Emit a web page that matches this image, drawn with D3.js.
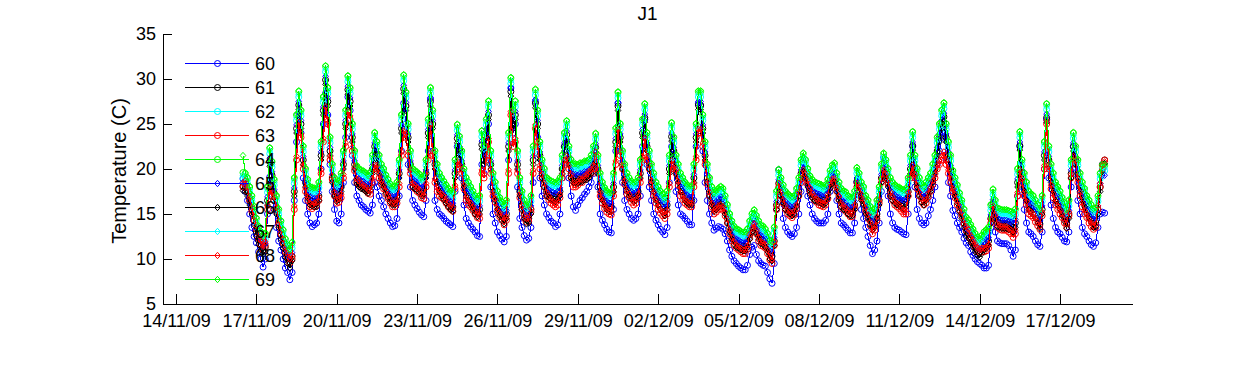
<!DOCTYPE html>
<html>
<head>
<meta charset="utf-8">
<script src="https://cdn.jsdelivr.net/npm/d3@7/dist/d3.min.js"></script>
<style>
  body { margin: 0; background: #fff; }
  svg { display: block; }
  text { font-family: "Liberation Sans", Arial, Helvetica, sans-serif; fill: #000; }
</style>
</head>
<body>
<svg id="chart" width="1250" height="365"></svg>
<script>
// ---------------- DATA ----------------
const chartTitle = "J1";
const yAxisLabel = "Temperature (C)";
const seriesNames = ["60", "61", "62", "63", "64", "65", "66", "67", "68", "69"];
// readings every 2 hours, first reading 16/11/09 12:00 (one line per day)
const firstReading = "2009-11-16T12:00:00";
const readingStepHours = 2;

const s60 = [18.9,17.5,16.5,15.0,13.5,12.5,
 11.8,10.8,10.0,9.1,10.0,15.0,19.1,17.5,15.5,13.5,12.0,11.0,
 10.0,9.0,8.5,7.7,8.5,16.5,23.0,26.2,24.0,19.0,16.5,15.0,
 14.0,13.6,13.8,14.0,15.0,20.0,25.0,28.4,26.0,20.5,17.5,15.5,
 14.2,14.0,15.0,18.5,23.5,28.0,26.5,21.5,18.5,17.0,16.5,16.0,
 15.8,15.5,15.3,15.1,16.0,18.5,18.0,17.0,16.5,15.8,15.0,14.5,
 14.0,13.6,13.7,14.5,17.0,22.0,27.3,25.0,20.5,18.0,16.5,16.0,
 15.6,15.2,14.9,14.7,16.5,22.0,27.8,22.0,16.5,15.5,15.0,14.8,
 14.5,14.2,14.0,13.8,13.6,17.5,22.5,21.0,19.0,16.0,14.5,14.0,
 13.6,13.3,13.0,12.6,12.5,20.5,19.5,22.5,25.0,18.0,15.0,14.0,
 13.0,12.6,12.2,11.9,12.5,21.0,29.0,24.0,25.0,18.0,14.5,13.5,
 12.6,12.1,12.3,13.5,18.5,27.5,23.5,19.0,17.0,16.0,15.0,14.6,
 14.2,14.0,13.6,13.8,15.0,19.0,22.5,23.0,19.0,17.0,15.8,15.4,
 16.0,16.5,16.8,17.2,17.5,18.0,18.5,19.5,21.0,18.0,15.0,14.3,
 13.8,13.3,13.0,12.9,15.5,22.0,27.3,22.0,18.5,16.5,15.5,15.0,
 14.5,14.3,14.5,15.0,17.0,22.5,25.5,20.5,18.0,16.5,15.0,14.3,
 13.8,13.3,13.0,12.7,13.5,18.5,22.5,20.0,17.5,16.0,15.0,14.8,
 14.5,14.2,13.8,13.8,16.5,22.5,27.3,27.0,22.0,18.5,16.5,15.0,
 14.0,13.2,13.4,13.6,13.5,13.3,12.8,12.0,11.0,10.3,9.8,9.5,
 9.2,9.0,8.8,8.8,9.3,10.5,11.3,11.5,10.5,9.8,9.5,9.3,
 9.2,8.5,7.8,7.3,9.5,15.5,19.9,17.0,14.5,13.5,13.0,12.7,
 12.5,12.8,13.5,15.0,17.5,19.9,18.5,17.0,16.0,15.0,14.5,14.2,
 14.0,14.0,14.0,14.3,15.0,17.5,19.0,19.2,16.5,15.0,14.0,13.8,
 13.5,13.2,12.9,12.9,14.0,18.5,17.5,15.5,14.5,13.5,12.5,11.5,
 10.6,11.0,12.0,14.0,17.5,21.3,20.0,17.0,15.0,14.0,13.5,13.3,
 13.2,13.0,12.8,12.7,15.0,19.0,22.5,18.0,15.5,14.5,14.0,13.8,
 14.0,14.8,15.5,16.5,18.0,20.5,22.0,23.5,24.8,21.0,18.5,17.0,
 15.4,14.8,14.0,13.5,13.0,12.3,11.8,11.5,10.8,10.4,10.0,9.7,
 9.5,9.3,9.0,9.0,9.3,13.5,16.0,13.0,12.0,11.8,11.7,11.7,
 11.7,11.5,11.0,10.3,11.0,17.0,22.5,17.5,15.5,14.0,13.0,12.8,
 12.5,12.0,11.6,11.4,13.0,20.0,25.5,19.0,16.0,14.5,13.5,13.0,
 12.8,12.4,12.0,11.9,13.0,18.0,22.5,19.5,16.5,15.0,13.5,12.8,
 12.5,12.0,11.6,11.4,11.8,13.5,15.0,15.2,15.1];

const s61 = [18.1,18.0,17.5,16.5,15.5,14.3,
 13.0,12.1,11.5,11.0,11.3,16.5,20.8,19.3,17.3,15.5,14.0,12.7,
 11.7,10.7,10.0,9.5,10.3,17.5,24.5,27.1,25.0,21.0,18.5,17.3,
 16.5,16.4,16.3,16.3,17.0,21.5,26.5,29.9,27.5,22.0,19.0,17.5,
 16.9,17.1,18.0,20.5,25.0,28.8,27.5,23.5,20.5,18.8,18.5,18.3,
 18.2,18.0,17.8,18.1,20.0,22.5,21.5,20.0,19.0,18.5,17.8,17.3,
 16.8,16.5,16.5,17.0,19.5,24.5,28.9,27.0,23.5,20.5,18.5,18.3,
 18.1,17.9,17.5,17.7,19.5,24.0,27.5,25.0,20.5,19.0,18.0,17.5,
 17.1,16.7,16.3,16.0,15.8,19.5,23.4,22.1,20.5,18.5,17.5,17.0,
 16.5,16.0,15.5,15.2,15.5,22.7,21.0,24.0,26.0,20.5,18.0,17.0,
 16.0,15.3,14.8,14.4,15.0,22.5,28.6,25.0,26.0,20.5,17.5,16.0,
 15.0,14.4,14.5,15.5,21.0,27.3,25.0,21.5,19.5,18.5,17.5,17.3,
 17.1,17.0,16.9,17.1,17.5,20.0,22.5,23.8,21.0,19.5,19.0,19.0,
 18.9,19.1,19.1,19.3,19.3,19.5,20.0,21.0,22.4,20.0,18.0,17.0,
 16.4,16.0,15.8,15.8,18.0,23.0,27.0,23.5,20.5,19.0,18.0,17.5,
 17.1,16.9,17.0,17.5,19.5,24.0,25.7,22.5,20.5,19.0,18.0,17.0,
 16.5,16.0,15.7,15.3,16.0,20.0,23.6,22.0,20.0,19.0,18.0,17.5,
 17.0,16.7,16.5,16.5,19.0,23.5,27.1,27.1,24.5,21.5,19.0,17.5,
 16.5,15.8,16.0,16.3,16.5,16.3,15.5,14.5,13.5,12.7,12.1,11.8,
 11.7,11.5,11.4,11.4,11.8,12.7,13.5,13.9,13.3,12.7,12.2,12.1,
 11.8,11.3,10.5,10.3,12.0,16.0,18.4,17.5,16.7,16.0,15.7,15.5,
 15.3,15.5,16.3,17.5,19.5,20.2,19.5,18.5,17.7,17.3,17.0,16.9,
 16.8,16.7,16.5,16.7,17.3,18.3,18.9,19.1,18.0,17.0,16.3,16.0,
 15.9,15.5,15.3,15.3,16.0,18.6,18.0,17.0,16.5,15.5,15.0,14.3,
 13.7,14.0,15.0,16.5,19.0,20.2,19.5,18.5,17.5,17.0,16.7,16.5,
 16.4,16.2,16.1,16.3,17.5,20.0,22.6,20.0,18.5,17.5,16.8,16.5,
 17.0,17.5,18.0,19.0,20.0,22.0,23.5,25.0,25.8,23.5,21.5,20.0,
 18.3,17.5,16.7,15.8,15.0,14.0,13.1,12.8,12.3,11.8,11.3,10.9,
 10.7,11.1,11.5,11.7,12.0,14.5,16.2,15.0,14.1,14.0,13.9,13.9,
 13.9,13.8,13.7,13.5,14.0,18.5,22.6,19.5,18.0,17.0,16.0,15.7,
 15.5,15.0,14.5,13.9,15.5,21.5,25.7,21.0,19.0,18.0,17.0,16.5,
 16.0,15.3,14.7,13.9,15.0,19.5,22.5,21.0,19.5,18.0,17.0,16.3,
 15.5,15.0,14.5,14.0,14.1,15.5,18.0,20.5,21.0];

const s62 = [19.0,18.9,18.4,17.4,16.4,15.2,
 13.9,13.0,12.4,11.9,12.2,17.4,21.7,20.2,18.2,16.4,14.9,13.6,
 12.6,11.6,10.9,10.4,11.2,18.4,25.4,28.0,25.9,21.9,19.4,18.2,
 17.4,17.3,17.2,17.2,17.9,22.4,27.4,30.8,28.4,22.9,19.9,18.4,
 17.8,18.0,18.9,21.4,25.9,29.7,28.4,24.4,21.4,19.7,19.4,19.2,
 19.1,18.9,18.7,19.0,20.9,23.4,22.4,20.9,19.9,19.4,18.7,18.2,
 17.7,17.4,17.4,17.9,20.4,25.4,29.8,27.9,24.4,21.4,19.4,19.2,
 19.0,18.8,18.4,18.6,20.4,24.9,28.4,25.9,21.4,19.9,18.9,18.4,
 18.0,17.6,17.2,16.9,16.7,20.4,24.3,23.0,21.4,19.4,18.4,17.9,
 17.4,16.9,16.4,16.1,16.4,23.6,21.9,24.9,26.9,21.4,18.9,17.9,
 16.9,16.2,15.7,15.3,15.9,23.4,29.5,25.9,26.9,21.4,18.4,16.9,
 15.9,15.3,15.4,16.4,21.9,28.2,25.9,22.4,20.4,19.4,18.4,18.2,
 18.0,17.9,17.8,18.0,18.4,20.9,23.4,24.7,21.9,20.4,19.9,19.9,
 19.8,20.0,20.0,20.2,20.2,20.4,20.9,21.9,23.3,20.9,18.9,17.9,
 17.3,16.9,16.7,16.7,18.9,23.9,27.9,24.4,21.4,19.9,18.9,18.4,
 18.0,17.8,17.9,18.4,20.4,24.9,26.6,23.4,21.4,19.9,18.9,17.9,
 17.4,16.9,16.6,16.2,16.9,20.9,24.5,22.9,20.9,19.9,18.9,18.4,
 17.9,17.6,17.4,17.4,19.9,24.4,28.0,28.0,25.4,22.4,19.9,18.4,
 17.4,16.7,16.9,17.2,17.4,17.2,16.4,15.4,14.4,13.6,13.0,12.7,
 12.6,12.4,12.3,12.3,12.7,13.6,14.4,14.8,14.2,13.6,13.1,13.0,
 12.7,12.2,11.4,11.2,12.9,16.9,19.3,18.4,17.6,16.9,16.6,16.4,
 16.2,16.4,17.2,18.4,20.4,21.1,20.4,19.4,18.6,18.2,17.9,17.8,
 17.7,17.6,17.4,17.6,18.2,19.2,19.8,20.0,18.9,17.9,17.2,16.9,
 16.8,16.4,16.2,16.2,16.9,19.5,18.9,17.9,17.4,16.4,15.9,15.2,
 14.6,14.9,15.9,17.4,19.9,21.1,20.4,19.4,18.4,17.9,17.6,17.4,
 17.3,17.1,17.0,17.2,18.4,20.9,23.5,20.9,19.4,18.4,17.7,17.4,
 17.9,18.4,18.9,19.9,20.9,22.9,24.4,25.9,26.7,24.4,22.4,20.9,
 19.2,18.4,17.6,16.7,15.9,14.9,14.0,13.7,13.2,12.7,12.2,11.8,
 11.6,12.0,12.4,12.6,12.9,15.4,17.1,15.9,15.0,14.9,14.8,14.8,
 14.8,14.7,14.6,14.4,14.9,19.4,23.5,20.4,18.9,17.9,16.9,16.6,
 16.4,15.9,15.4,14.8,16.4,22.4,26.6,21.9,19.9,18.9,17.9,17.4,
 16.9,16.2,15.6,14.8,15.9,20.4,23.4,21.9,20.4,18.9,17.9,17.2,
 16.4,15.9,15.4,14.9,15.0,16.4,18.9,19.8,19.8];

const s63 = [18.0,18.3,17.5,16.5,15.3,14.3,
 13.3,12.3,11.6,11.0,11.5,15.5,17.8,17.0,16.5,15.3,13.8,12.8,
 11.8,10.8,10.2,9.6,10.0,15.5,21.0,24.8,23.5,20.0,17.5,16.5,
 15.8,15.6,15.8,15.9,16.5,19.5,23.0,26.5,25.0,21.0,18.8,17.0,
 16.2,16.3,16.8,19.0,22.5,26.0,25.5,22.0,19.8,18.5,18.3,18.0,
 17.8,17.6,17.3,17.2,18.5,20.0,20.0,19.0,18.3,17.8,17.2,16.7,
 16.2,15.8,15.8,16.2,18.0,21.5,23.8,23.5,21.5,19.5,18.0,17.8,
 17.5,17.3,16.8,16.7,18.0,21.0,24.5,21.5,18.5,17.5,17.0,16.8,
 16.6,16.2,15.8,15.5,15.3,17.8,20.5,20.0,19.5,17.8,16.5,16.0,
 15.8,15.4,15.0,14.6,14.5,19.5,19.0,21.0,23.0,19.5,17.0,16.3,
 15.2,14.7,14.3,13.8,14.3,19.5,26.0,22.5,23.0,19.5,16.8,15.5,
 14.5,14.1,14.2,15.2,19.5,24.5,22.5,20.0,19.0,18.0,17.0,16.6,
 16.2,16.0,15.8,16.0,16.8,19.0,20.5,21.0,20.0,19.0,18.0,18.0,
 18.2,18.5,18.5,18.8,19.0,19.3,19.5,20.0,21.5,19.5,17.0,16.2,
 15.6,15.2,15.0,14.9,17.0,20.5,24.0,21.5,20.0,18.3,17.2,16.8,
 16.3,16.0,16.2,16.8,18.5,21.0,23.0,21.0,20.0,18.3,17.0,16.2,
 15.5,15.1,14.8,14.5,15.0,18.0,20.5,20.0,19.5,18.2,17.0,16.6,
 16.2,16.0,15.8,15.8,18.0,21.0,24.0,24.0,22.5,20.5,18.3,17.0,
 15.8,15.0,15.2,15.5,15.6,15.4,14.8,14.0,12.8,12.0,11.5,11.2,
 11.0,10.8,10.6,10.6,11.1,12.3,13.0,13.5,12.8,12.0,11.5,11.4,
 11.2,10.6,9.9,9.5,11.5,15.5,18.0,17.0,16.2,15.5,15.0,14.8,
 14.6,14.9,15.6,17.0,18.5,19.5,19.0,18.3,17.5,16.9,16.5,16.3,
 16.0,15.9,15.8,16.0,16.7,18.0,18.5,18.5,17.5,16.6,15.8,15.5,
 15.3,15.0,14.7,14.7,15.6,18.0,17.5,16.8,16.2,15.3,14.5,13.7,
 12.8,13.2,14.3,16.2,18.5,19.5,19.0,18.3,17.0,16.5,16.0,15.8,
 15.6,15.3,15.0,15.0,17.0,19.0,20.0,19.0,17.8,17.0,16.3,16.0,
 16.2,16.9,17.5,18.3,19.0,20.0,20.5,21.0,21.5,20.5,19.5,18.5,
 17.4,16.8,16.0,15.4,14.8,13.9,13.2,12.9,12.2,11.7,11.3,10.9,
 10.7,10.8,10.8,10.9,11.2,14.0,15.5,14.5,13.5,13.3,13.2,13.2,
 13.2,13.0,12.8,12.4,12.8,17.0,19.5,18.5,17.0,16.0,15.0,14.8,
 14.6,14.1,13.7,13.3,14.8,20.0,25.0,20.0,17.8,16.8,16.0,15.5,
 15.0,14.6,14.0,13.5,14.8,19.0,21.0,20.5,18.5,17.0,15.8,15.0,
 14.6,14.0,13.6,13.3,13.5,15.5,18.0,20.0,21.0];

const s64 = [19.6,19.5,19.0,18.0,17.0,15.8,
 14.5,13.6,13.0,12.5,12.8,18.0,22.3,20.8,18.8,17.0,15.5,14.2,
 13.2,12.2,11.5,11.0,11.8,19.0,26.0,28.6,26.5,22.5,20.0,18.8,
 18.0,17.9,17.8,17.8,18.5,23.0,28.0,31.4,29.0,23.5,20.5,19.0,
 18.4,18.6,19.5,22.0,26.5,30.3,29.0,25.0,22.0,20.3,20.0,19.8,
 19.7,19.5,19.3,19.6,21.5,24.0,23.0,21.5,20.5,20.0,19.3,18.8,
 18.3,18.0,18.0,18.5,21.0,26.0,30.4,28.5,25.0,22.0,20.0,19.8,
 19.6,19.4,19.0,19.2,21.0,25.5,29.0,26.5,22.0,20.5,19.5,19.0,
 18.6,18.2,17.8,17.5,17.3,21.0,24.9,23.6,22.0,20.0,19.0,18.5,
 18.0,17.5,17.0,16.7,17.0,24.2,22.5,25.5,27.5,22.0,19.5,18.5,
 17.5,16.8,16.3,15.9,16.5,24.0,30.1,26.5,27.5,22.0,19.0,17.5,
 16.5,15.9,16.0,17.0,22.5,28.8,26.5,23.0,21.0,20.0,19.0,18.8,
 18.6,18.5,18.4,18.6,19.0,21.5,24.0,25.3,22.5,21.0,20.5,20.5,
 20.4,20.6,20.6,20.8,20.8,21.0,21.5,22.5,23.9,21.5,19.5,18.5,
 17.9,17.5,17.3,17.3,19.5,24.5,28.5,25.0,22.0,20.5,19.5,19.0,
 18.6,18.4,18.5,19.0,21.0,25.5,27.2,24.0,22.0,20.5,19.5,18.5,
 18.0,17.5,17.2,16.8,17.5,21.5,25.1,23.5,21.5,20.5,19.5,19.0,
 18.5,18.2,18.0,18.0,20.5,25.0,28.6,28.6,26.0,23.0,20.5,19.0,
 18.0,17.3,17.5,17.8,18.0,17.8,17.0,16.0,15.0,14.2,13.6,13.3,
 13.2,13.0,12.9,12.9,13.3,14.2,15.0,15.4,14.8,14.2,13.7,13.6,
 13.3,12.8,12.0,11.8,13.5,17.5,19.9,19.0,18.2,17.5,17.2,17.0,
 16.8,17.0,17.8,19.0,21.0,21.7,21.0,20.0,19.2,18.8,18.5,18.4,
 18.3,18.2,18.0,18.2,18.8,19.8,20.4,20.6,19.5,18.5,17.8,17.5,
 17.4,17.0,16.8,16.8,17.5,20.1,19.5,18.5,18.0,17.0,16.5,15.8,
 15.2,15.5,16.5,18.0,20.5,21.7,21.0,20.0,19.0,18.5,18.2,18.0,
 17.9,17.7,17.6,17.8,19.0,21.5,24.1,21.5,20.0,19.0,18.3,18.0,
 18.5,19.0,19.5,20.5,21.5,23.5,25.0,26.5,27.3,25.0,23.0,21.5,
 19.8,19.0,18.2,17.3,16.5,15.5,14.6,14.3,13.8,13.3,12.8,12.4,
 12.2,12.6,13.0,13.2,13.5,16.0,17.7,16.5,15.6,15.5,15.4,15.4,
 15.4,15.3,15.2,15.0,15.5,20.0,24.1,21.0,19.5,18.5,17.5,17.2,
 17.0,16.5,16.0,15.4,17.0,23.0,27.2,22.5,20.5,19.5,18.5,18.0,
 17.5,16.8,16.2,15.4,16.5,21.0,24.0,22.5,21.0,19.5,18.5,17.8,
 17.0,16.5,16.0,15.5,15.6,17.0,19.5,20.4,20.4];

const s65 = [18.5,18.4,17.9,16.9,15.9,14.7,
 13.4,12.5,11.9,11.4,11.7,16.9,21.2,19.7,17.7,15.9,14.4,13.1,
 12.1,11.1,10.4,9.9,10.7,17.9,24.9,27.5,25.4,21.4,18.9,17.7,
 16.9,16.8,16.7,16.7,17.4,21.9,26.9,30.3,27.9,22.4,19.4,17.9,
 17.3,17.5,18.4,20.9,25.4,29.2,27.9,23.9,20.9,19.2,18.9,18.7,
 18.6,18.4,18.2,18.5,20.4,22.9,21.9,20.4,19.4,18.9,18.2,17.7,
 17.2,16.9,16.9,17.4,19.9,24.9,29.3,27.4,23.9,20.9,18.9,18.7,
 18.5,18.3,17.9,18.1,19.9,24.4,27.9,25.4,20.9,19.4,18.4,17.9,
 17.5,17.1,16.7,16.4,16.2,19.9,23.8,22.5,20.9,18.9,17.9,17.4,
 16.9,16.4,15.9,15.6,15.9,23.1,21.4,24.4,26.4,20.9,18.4,17.4,
 16.4,15.7,15.2,14.8,15.4,22.9,29.0,25.4,26.4,20.9,17.9,16.4,
 15.4,14.8,14.9,15.9,21.4,27.7,25.4,21.9,19.9,18.9,17.9,17.7,
 17.5,17.4,17.3,17.5,17.9,20.4,22.9,24.2,21.4,19.9,19.4,19.4,
 19.3,19.5,19.5,19.7,19.7,19.9,20.4,21.4,22.8,20.4,18.4,17.4,
 16.8,16.4,16.2,16.2,18.4,23.4,27.4,23.9,20.9,19.4,18.4,17.9,
 17.5,17.3,17.4,17.9,19.9,24.4,26.1,22.9,20.9,19.4,18.4,17.4,
 16.9,16.4,16.1,15.7,16.4,20.4,24.0,22.4,20.4,19.4,18.4,17.9,
 17.4,17.1,16.9,16.9,19.4,23.9,27.5,27.5,24.9,21.9,19.4,17.9,
 16.9,16.2,16.4,16.7,16.9,16.7,15.9,14.9,13.9,13.1,12.5,12.2,
 12.1,11.9,11.8,11.8,12.2,13.1,13.9,14.3,13.7,13.1,12.6,12.5,
 12.2,11.7,10.9,10.7,12.4,16.4,18.8,17.9,17.1,16.4,16.1,15.9,
 15.7,15.9,16.7,17.9,19.9,20.6,19.9,18.9,18.1,17.7,17.4,17.3,
 17.2,17.1,16.9,17.1,17.7,18.7,19.3,19.5,18.4,17.4,16.7,16.4,
 16.3,15.9,15.7,15.7,16.4,19.0,18.4,17.4,16.9,15.9,15.4,14.7,
 14.1,14.4,15.4,16.9,19.4,20.6,19.9,18.9,17.9,17.4,17.1,16.9,
 16.8,16.6,16.5,16.7,17.9,20.4,23.0,20.4,18.9,17.9,17.2,16.9,
 17.4,17.9,18.4,19.4,20.4,22.4,23.9,25.4,26.2,23.9,21.9,20.4,
 18.7,17.9,17.1,16.2,15.4,14.4,13.5,13.2,12.7,12.2,11.7,11.3,
 11.1,11.5,11.9,12.1,12.4,14.9,16.6,15.4,14.5,14.4,14.3,14.3,
 14.3,14.2,14.1,13.9,14.4,18.9,23.0,19.9,18.4,17.4,16.4,16.1,
 15.9,15.4,14.9,14.3,15.9,21.9,26.1,21.4,19.4,18.4,17.4,16.9,
 16.4,15.7,15.1,14.3,15.4,19.9,22.9,21.4,19.9,18.4,17.4,16.7,
 15.9,15.4,14.9,14.4,14.5,15.9,18.4,19.3,19.3];

const s66 = [17.6,17.5,17.0,16.0,15.0,13.8,
 12.5,11.6,11.0,10.5,10.8,16.0,20.3,18.8,16.8,15.0,13.5,12.2,
 11.2,10.2,9.5,9.0,9.8,17.0,24.0,26.6,24.5,20.5,18.0,16.8,
 16.0,15.9,15.8,15.8,16.5,21.0,26.0,29.4,27.0,21.5,18.5,17.0,
 16.4,16.6,17.5,20.0,24.5,28.3,27.0,23.0,20.0,18.3,18.0,17.8,
 17.7,17.5,17.3,17.6,19.5,22.0,21.0,19.5,18.5,18.0,17.3,16.8,
 16.3,16.0,16.0,16.5,19.0,24.0,28.4,26.5,23.0,20.0,18.0,17.8,
 17.6,17.4,17.0,17.2,19.0,23.5,27.0,24.5,20.0,18.5,17.5,17.0,
 16.6,16.2,15.8,15.5,15.3,19.0,22.9,21.6,20.0,18.0,17.0,16.5,
 16.0,15.5,15.0,14.7,15.0,22.2,20.5,23.5,25.5,20.0,17.5,16.5,
 15.5,14.8,14.3,13.9,14.5,22.0,28.1,24.5,25.5,20.0,17.0,15.5,
 14.5,13.9,14.0,15.0,20.5,26.8,24.5,21.0,19.0,18.0,17.0,16.8,
 16.6,16.5,16.4,16.6,17.0,19.5,22.0,23.3,20.5,19.0,18.5,18.5,
 18.4,18.6,18.6,18.8,18.8,19.0,19.5,20.5,21.9,19.5,17.5,16.5,
 15.9,15.5,15.3,15.3,17.5,22.5,26.5,23.0,20.0,18.5,17.5,17.0,
 16.6,16.4,16.5,17.0,19.0,23.5,25.2,22.0,20.0,18.5,17.5,16.5,
 16.0,15.5,15.2,14.8,15.5,19.5,23.1,21.5,19.5,18.5,17.5,17.0,
 16.5,16.2,16.0,16.0,18.5,23.0,26.6,26.6,24.0,21.0,18.5,17.0,
 16.0,15.3,15.5,15.8,16.0,15.8,15.0,14.0,13.0,12.2,11.6,11.3,
 11.2,11.0,10.9,10.9,11.3,12.2,13.0,13.4,12.8,12.2,11.7,11.6,
 11.3,10.8,10.0,9.8,11.5,15.5,17.9,17.0,16.2,15.5,15.2,15.0,
 14.8,15.0,15.8,17.0,19.0,19.7,19.0,18.0,17.2,16.8,16.5,16.4,
 16.3,16.2,16.0,16.2,16.8,17.8,18.4,18.6,17.5,16.5,15.8,15.5,
 15.4,15.0,14.8,14.8,15.5,18.1,17.5,16.5,16.0,15.0,14.5,13.8,
 13.2,13.5,14.5,16.0,18.5,19.7,19.0,18.0,17.0,16.5,16.2,16.0,
 15.9,15.7,15.6,15.8,17.0,19.5,22.1,19.5,18.0,17.0,16.3,16.0,
 16.5,17.0,17.5,18.5,19.5,21.5,23.0,24.5,25.3,23.0,21.0,19.5,
 17.8,17.0,16.2,15.3,14.5,13.5,12.6,12.3,11.8,11.3,10.8,10.4,
 10.2,10.6,11.0,11.2,11.5,14.0,15.7,14.5,13.6,13.5,13.4,13.4,
 13.4,13.3,13.2,13.0,13.5,18.0,22.1,19.0,17.5,16.5,15.5,15.2,
 15.0,14.5,14.0,13.4,15.0,21.0,25.2,20.5,18.5,17.5,16.5,16.0,
 15.5,14.8,14.2,13.4,14.5,19.0,22.0,20.5,19.0,17.5,16.5,15.8,
 15.0,14.5,14.0,13.5,13.6,15.0,17.5,19.8,20.6];

const s67 = [19.3,19.2,18.7,17.7,16.7,15.5,
 14.2,13.3,12.7,12.2,12.5,17.7,22.0,20.5,18.5,16.7,15.2,13.9,
 12.9,11.9,11.2,10.7,11.5,18.7,25.7,28.3,26.2,22.2,19.7,18.5,
 17.7,17.6,17.5,17.5,18.2,22.7,27.7,31.1,28.7,23.2,20.2,18.7,
 18.1,18.3,19.2,21.7,26.2,30.0,28.7,24.7,21.7,20.0,19.7,19.5,
 19.4,19.2,19.0,19.3,21.2,23.7,22.7,21.2,20.2,19.7,19.0,18.5,
 18.0,17.7,17.7,18.2,20.7,25.7,30.1,28.2,24.7,21.7,19.7,19.5,
 19.3,19.1,18.7,18.9,20.7,25.2,28.7,26.2,21.7,20.2,19.2,18.7,
 18.3,17.9,17.5,17.2,17.0,20.7,24.6,23.3,21.7,19.7,18.7,18.2,
 17.7,17.2,16.7,16.4,16.7,23.9,22.2,25.2,27.2,21.7,19.2,18.2,
 17.2,16.5,16.0,15.6,16.2,23.7,29.8,26.2,27.2,21.7,18.7,17.2,
 16.2,15.6,15.7,16.7,22.2,28.5,26.2,22.7,20.7,19.7,18.7,18.5,
 18.3,18.2,18.1,18.3,18.7,21.2,23.7,25.0,22.2,20.7,20.2,20.2,
 20.1,20.3,20.3,20.5,20.5,20.7,21.2,22.2,23.6,21.2,19.2,18.2,
 17.6,17.2,17.0,17.0,19.2,24.2,28.2,24.7,21.7,20.2,19.2,18.7,
 18.3,18.1,18.2,18.7,20.7,25.2,26.9,23.7,21.7,20.2,19.2,18.2,
 17.7,17.2,16.9,16.5,17.2,21.2,24.8,23.2,21.2,20.2,19.2,18.7,
 18.2,17.9,17.7,17.7,20.2,24.7,28.3,28.3,25.7,22.7,20.2,18.7,
 17.7,17.0,17.2,17.5,17.7,17.5,16.7,15.7,14.7,13.9,13.3,13.0,
 12.9,12.7,12.6,12.6,13.0,13.9,14.7,15.1,14.5,13.9,13.4,13.3,
 13.0,12.5,11.7,11.5,13.2,17.2,19.6,18.7,17.9,17.2,16.9,16.7,
 16.5,16.7,17.5,18.7,20.7,21.4,20.7,19.7,18.9,18.5,18.2,18.1,
 18.0,17.9,17.7,17.9,18.5,19.5,20.1,20.3,19.2,18.2,17.5,17.2,
 17.1,16.7,16.5,16.5,17.2,19.8,19.2,18.2,17.7,16.7,16.2,15.5,
 14.9,15.2,16.2,17.7,20.2,21.4,20.7,19.7,18.7,18.2,17.9,17.7,
 17.6,17.4,17.3,17.5,18.7,21.2,23.8,21.2,19.7,18.7,18.0,17.7,
 18.2,18.7,19.2,20.2,21.2,23.2,24.7,26.2,27.0,24.7,22.7,21.2,
 19.5,18.7,17.9,17.0,16.2,15.2,14.3,14.0,13.5,13.0,12.5,12.1,
 11.9,12.3,12.7,12.9,13.2,15.7,17.4,16.2,15.3,15.2,15.1,15.1,
 15.1,15.0,14.9,14.7,15.2,19.7,23.8,20.7,19.2,18.2,17.2,16.9,
 16.7,16.2,15.7,15.1,16.7,22.7,26.9,22.2,20.2,19.2,18.2,17.7,
 17.2,16.5,15.9,15.1,16.2,20.7,23.7,22.2,20.7,19.2,18.2,17.5,
 16.7,16.2,15.7,15.2,15.3,16.7,19.2,20.1,20.1];

const s68 = [18.4,18.7,17.9,16.9,15.7,14.7,
 13.7,12.7,12.0,11.4,11.9,15.9,18.2,17.4,16.9,15.7,14.2,13.2,
 12.2,11.2,10.6,10.0,10.4,15.9,21.4,25.2,23.9,20.4,17.9,16.9,
 16.2,16.0,16.2,16.3,16.9,19.9,23.4,26.9,25.4,21.4,19.2,17.4,
 16.6,16.7,17.2,19.4,22.9,26.4,25.9,22.4,20.2,18.9,18.7,18.4,
 18.2,18.0,17.7,17.6,18.9,20.4,20.4,19.4,18.7,18.2,17.6,17.1,
 16.6,16.2,16.2,16.6,18.4,21.9,24.2,23.9,21.9,19.9,18.4,18.2,
 17.9,17.7,17.2,17.1,18.4,21.4,24.9,21.9,18.9,17.9,17.4,17.2,
 17.0,16.6,16.2,15.9,15.7,18.2,20.9,20.4,19.9,18.2,16.9,16.4,
 16.2,15.8,15.4,15.0,14.9,19.9,19.4,21.4,23.4,19.9,17.4,16.7,
 15.6,15.1,14.7,14.2,14.7,19.9,26.4,22.9,23.4,19.9,17.2,15.9,
 14.9,14.5,14.6,15.6,19.9,24.9,22.9,20.4,19.4,18.4,17.4,17.0,
 16.6,16.4,16.2,16.4,17.2,19.4,20.9,21.4,20.4,19.4,18.4,18.4,
 18.6,18.9,18.9,19.2,19.4,19.7,19.9,20.4,21.9,19.9,17.4,16.6,
 16.0,15.6,15.4,15.3,17.4,20.9,24.4,21.9,20.4,18.7,17.6,17.2,
 16.7,16.4,16.6,17.2,18.9,21.4,23.4,21.4,20.4,18.7,17.4,16.6,
 15.9,15.5,15.2,14.9,15.4,18.4,20.9,20.4,19.9,18.6,17.4,17.0,
 16.6,16.4,16.2,16.2,18.4,21.4,24.4,24.4,22.9,20.9,18.7,17.4,
 16.2,15.4,15.6,15.9,16.0,15.8,15.2,14.4,13.2,12.4,11.9,11.6,
 11.4,11.2,11.0,11.0,11.5,12.7,13.4,13.9,13.2,12.4,11.9,11.8,
 11.6,11.0,10.3,9.9,11.9,15.9,18.4,17.4,16.6,15.9,15.4,15.2,
 15.0,15.3,16.0,17.4,18.9,19.9,19.4,18.7,17.9,17.3,16.9,16.7,
 16.4,16.3,16.2,16.4,17.1,18.4,18.9,18.9,17.9,17.0,16.2,15.9,
 15.7,15.4,15.1,15.1,16.0,18.4,17.9,17.2,16.6,15.7,14.9,14.1,
 13.2,13.6,14.7,16.6,18.9,19.9,19.4,18.7,17.4,16.9,16.4,16.2,
 16.0,15.7,15.4,15.4,17.4,19.4,20.4,19.4,18.2,17.4,16.7,16.4,
 16.6,17.3,17.9,18.7,19.4,20.4,20.9,21.4,21.9,20.9,19.9,18.9,
 17.8,17.2,16.4,15.8,15.2,14.3,13.6,13.3,12.6,12.1,11.7,11.3,
 11.1,11.2,11.2,11.3,11.6,14.4,15.9,14.9,13.9,13.7,13.6,13.6,
 13.6,13.4,13.2,12.8,13.2,17.4,19.9,18.9,17.4,16.4,15.4,15.2,
 15.0,14.5,14.1,13.7,15.2,20.4,25.4,20.4,18.2,17.2,16.4,15.9,
 15.4,15.0,14.4,13.9,15.2,19.4,21.4,20.9,18.9,17.4,16.2,15.4,
 15.0,14.4,14.0,13.7,13.9,15.9,18.4,20.4,20.8];

const s69 = [21.5,19.6,19.1,18.1,17.1,15.9,
 14.6,13.7,13.1,12.6,12.9,18.1,22.4,20.9,18.9,17.1,15.6,14.3,
 13.3,12.3,11.6,11.1,11.9,19.1,26.1,28.7,26.6,22.6,20.1,18.9,
 18.1,18.0,17.9,17.9,18.6,23.1,28.1,31.5,29.1,23.6,20.6,19.1,
 18.5,18.7,19.6,22.1,26.6,30.4,29.1,25.1,22.1,20.4,20.1,19.9,
 19.8,19.6,19.4,19.7,21.6,24.1,23.1,21.6,20.6,20.1,19.4,18.9,
 18.4,18.1,18.1,18.6,21.1,26.1,30.5,28.6,25.1,22.1,20.1,19.9,
 19.7,19.5,19.1,19.3,21.1,25.6,29.1,26.6,22.1,20.6,19.6,19.1,
 18.7,18.3,17.9,17.6,17.4,21.1,25.0,23.7,22.1,20.1,19.1,18.6,
 18.1,17.6,17.1,16.8,17.1,24.3,22.6,25.6,27.6,22.1,19.6,18.6,
 17.6,16.9,16.4,16.0,16.6,24.1,30.2,26.6,27.6,22.1,19.1,17.6,
 16.6,16.0,16.1,17.1,22.6,28.9,26.6,23.1,21.1,20.1,19.1,18.9,
 18.7,18.6,18.5,18.7,19.1,21.6,24.1,25.4,22.6,21.1,20.6,20.6,
 20.5,20.7,20.7,20.9,20.9,21.1,21.6,22.6,24.0,21.6,19.6,18.6,
 18.0,17.6,17.4,17.4,19.6,24.6,28.6,25.1,22.1,20.6,19.6,19.1,
 18.7,18.5,18.6,19.1,21.1,25.6,27.3,24.1,22.1,20.6,19.6,18.6,
 18.1,17.6,17.3,16.9,17.6,21.6,25.2,23.6,21.6,20.6,19.6,19.1,
 18.6,18.3,18.1,18.1,20.6,25.1,28.7,28.7,26.1,23.1,20.6,19.1,
 18.1,17.4,17.6,17.9,18.1,17.9,17.1,16.1,15.1,14.3,13.7,13.4,
 13.3,13.1,13.0,13.0,13.4,14.3,15.1,15.5,14.9,14.3,13.8,13.7,
 13.4,12.9,12.1,11.9,13.6,17.6,20.0,19.1,18.3,17.6,17.3,17.1,
 16.9,17.1,17.9,19.1,21.1,21.8,21.1,20.1,19.3,18.9,18.6,18.5,
 18.4,18.3,18.1,18.3,18.9,19.9,20.5,20.7,19.6,18.6,17.9,17.6,
 17.5,17.1,16.9,16.9,17.6,20.2,19.6,18.6,18.1,17.1,16.6,15.9,
 15.3,15.6,16.6,18.1,20.6,21.8,21.1,20.1,19.1,18.6,18.3,18.1,
 18.0,17.8,17.7,17.9,19.1,21.6,24.2,21.6,20.1,19.1,18.4,18.1,
 18.6,19.1,19.6,20.6,21.6,23.6,25.1,26.6,27.4,25.1,23.1,21.6,
 19.9,19.1,18.3,17.4,16.6,15.6,14.7,14.4,13.9,13.4,12.9,12.5,
 12.3,12.7,13.1,13.3,13.6,16.1,17.8,16.6,15.7,15.6,15.5,15.5,
 15.5,15.4,15.3,15.1,15.6,20.1,24.2,21.1,19.6,18.6,17.6,17.3,
 17.1,16.6,16.1,15.5,17.1,23.1,27.3,22.6,20.6,19.6,18.6,18.1,
 17.6,16.9,16.3,15.5,16.6,21.1,24.1,22.6,21.1,19.6,18.6,17.9,
 17.1,16.6,16.1,15.6,15.7,17.1,19.6,20.5,20.5];

const seriesValues = [s60, s61, s62, s63, s64, s65, s66, s67, s68, s69];

const yTickValues = [5, 10, 15, 20, 25, 30, 35];
const xTickDates = ["2009-11-14", "2009-11-17", "2009-11-20", "2009-11-23", "2009-11-26", "2009-11-29",
  "2009-12-02", "2009-12-05", "2009-12-08", "2009-12-11", "2009-12-14", "2009-12-17"];
const xTickLabels = ["14/11/09", "17/11/09", "20/11/09", "23/11/09", "26/11/09", "29/11/09",
  "02/12/09", "05/12/09", "08/12/09", "11/12/09", "14/12/09", "17/12/09"];
const xDomain = ["2009-11-13T12:21:00", "2009-12-19T16:30:00"];
const yDomain = [5, 35];

// ---------------- STYLE ----------------
const seriesColors = ["#0000ff", "#000000", "#00ffff", "#ff0000", "#00ff00",
                      "#0000ff", "#000000", "#00ffff", "#ff0000", "#00ff00"];
const seriesMarkers = ["circle", "circle", "circle", "circle", "circle",
                       "diamond", "diamond", "diamond", "diamond", "diamond"];

const frame = { left: 163, right: 1132, top: 34, bottom: 304 };
const fontSize = 18;

// ---------------- DRAW ----------------
const svg = d3.select("#chart");
const parseT = d3.isoParse;

const x = d3.scaleTime().domain(xDomain.map(parseT)).range([frame.left, frame.right]);
const y = d3.scaleLinear().domain(yDomain).range([frame.bottom, frame.top]);

const t0 = parseT(firstReading).getTime();
const timeAt = i => new Date(t0 + i * readingStepHours * 3600 * 1000);

function diamondPath(cx, cy) {
  const w = 2.8, h = 3.2;
  return `M${cx},${cy - h}L${cx + w},${cy}L${cx},${cy + h}L${cx - w},${cy}Z`;
}

const plot = svg.append("g");
seriesValues.forEach((vals, si) => {
  const color = seriesColors[si];
  const g = plot.append("g");
  const line = d3.line().x((d, i) => x(timeAt(i))).y(d => y(d));
  g.append("path")
    .attr("d", line(vals))
    .attr("fill", "none")
    .attr("stroke", color)
    .attr("stroke-width", 1)
    .attr("shape-rendering", "optimizeSpeed");
  if (seriesMarkers[si] === "circle") {
    g.selectAll("circle").data(vals).join("circle")
      .attr("cx", (d, i) => x(timeAt(i)))
      .attr("cy", d => y(d))
      .attr("r", 3)
      .attr("fill", "none")
      .attr("stroke", color)
      .attr("stroke-width", 1);
  } else {
    g.selectAll("path.m").data(vals).join("path")
      .attr("class", "m")
      .attr("d", (d, i) => diamondPath(x(timeAt(i)), y(d)))
      .attr("fill", "none")
      .attr("stroke", color)
      .attr("stroke-width", 1);
  }
});

// axes
const yAxis = d3.axisLeft(y).tickValues(yTickValues).tickFormat(d3.format("d"))
  .tickSizeInner(-9).tickSizeOuter(0).tickPadding(7);
const xAxis = d3.axisBottom(x).tickValues(xTickDates.map(parseT))
  .tickFormat((d, i) => xTickLabels[i])
  .tickSizeInner(-10).tickSizeOuter(0).tickPadding(10);

const gy = svg.append("g").attr("transform", `translate(${frame.left},0)`).call(yAxis);
const gx = svg.append("g").attr("transform", `translate(0,${frame.bottom})`).call(xAxis);
[gx, gy].forEach(g => {
  g.selectAll("path, line").attr("stroke", "#000").attr("shape-rendering", "crispEdges");
  g.selectAll("text").attr("font-size", fontSize).attr("fill", "#000")
    .attr("font-family", '"Liberation Sans", Arial, sans-serif');
});

// title
svg.append("text")
  .attr("x", (frame.left + frame.right) / 2)
  .attr("y", 20)
  .attr("text-anchor", "middle")
  .attr("font-size", 19)
  .text(chartTitle);

// y label
svg.append("text")
  .attr("transform", `translate(126,${(frame.top + frame.bottom) / 2 + 2}) rotate(-90)`)
  .attr("text-anchor", "middle")
  .attr("font-size", 20)
  .text(yAxisLabel);

// legend (drawn on top of the data, no box)
const legend = svg.append("g");
seriesNames.forEach((name, i) => {
  const ly = 63.5 + 24 * i;
  const color = seriesColors[i];
  legend.append("line")
    .attr("x1", 185).attr("x2", 249).attr("y1", ly).attr("y2", ly)
    .attr("stroke", color).attr("stroke-width", 1).attr("shape-rendering", "crispEdges");
  if (seriesMarkers[i] === "circle") {
    legend.append("circle").attr("cx", 217.5).attr("cy", ly).attr("r", 3)
      .attr("fill", "none").attr("stroke", color);
  } else {
    legend.append("path").attr("d", diamondPath(217.5, ly))
      .attr("fill", "none").attr("stroke", color);
  }
  legend.append("text")
    .attr("x", 255).attr("y", ly)
    .attr("dy", "0.36em")
    .attr("font-size", fontSize)
    .text(name);
});
</script>
</body>
</html>
